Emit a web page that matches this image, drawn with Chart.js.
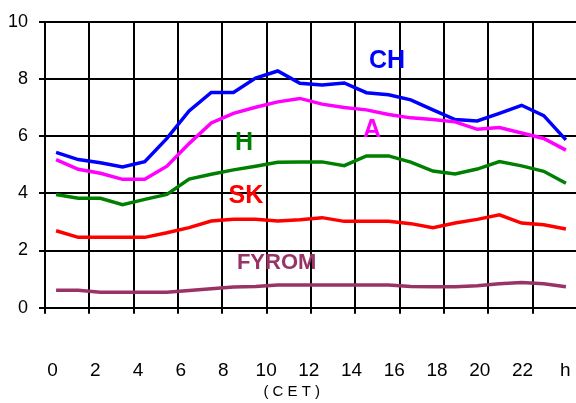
<!DOCTYPE html>
<html>
<head>
<meta charset="utf-8">
<script src="https://cdn.jsdelivr.net/npm/chart.js@4/dist/chart.umd.min.js"></script>
<style>
  html, body { margin: 0; padding: 0; background: #fff; overflow: hidden; }
  #wrap { width: 578px; height: 403px; }
</style>
</head>
<body>
<div id="wrap"><canvas id="c" width="578" height="403"></canvas></div>
<script>
// ---- data ----
const hours = ['0','1','2','3','4','5','6','7','8','9','10','11','12','13','14','15','16','17','18','19','20','21','22','23'];
const CH    = [5.43,5.18,5.07,4.92,5.11,5.92,6.88,7.53,7.53,8.03,8.28,7.85,7.79,7.86,7.52,7.45,7.27,6.92,6.58,6.53,6.80,7.08,6.72,5.87];
const A     = [5.18,4.84,4.70,4.49,4.49,4.95,5.74,6.46,6.80,7.01,7.20,7.32,7.12,7.00,6.92,6.76,6.64,6.58,6.50,6.24,6.30,6.11,5.92,5.51];
const H     = [3.96,3.83,3.83,3.60,3.79,3.96,4.50,4.67,4.82,4.95,5.09,5.10,5.10,4.97,5.31,5.31,5.09,4.78,4.68,4.85,5.11,4.96,4.77,4.35];
const SK    = [2.69,2.46,2.46,2.46,2.46,2.62,2.80,3.03,3.09,3.09,3.03,3.08,3.15,3.02,3.02,3.02,2.94,2.80,2.96,3.09,3.25,2.96,2.90,2.75];
const FYROM = [0.61,0.61,0.54,0.54,0.54,0.54,0.60,0.66,0.72,0.74,0.79,0.79,0.79,0.79,0.79,0.79,0.74,0.73,0.73,0.77,0.84,0.88,0.84,0.73];
const xTickValues = [0,2,4,6,8,10,12,14,16,18,20,22,24];
const xTickLabels = ['0','2','4','6','8','10','12','14','16','18','20','22','h'];
const yTicks = [0,2,4,6,8,10];
const axisTitle = '( C E T )';

const COLORS = { CH:'#0000FF', A:'#FF00FF', H:'#008000', SK:'#FF0000', FYROM:'#993366' };
const FONT = '"Liberation Sans", Arial, sans-serif';

// series name labels placed in data coordinates (category index, value)
const seriesLabels = [
  { text:'CH',    color:COLORS.CH,    idx:14.93, val:8.63, size:25 },
  { text:'A',     color:COLORS.A,     idx:14.25, val:6.20, size:25 },
  { text:'H',     color:COLORS.H,     idx:8.48,  val:5.75, size:25 },
  { text:'SK',    color:COLORS.SK,    idx:8.56,  val:3.90, size:25 },
  { text:'FYROM', color:COLORS.FYROM, idx:9.95,  val:1.57, size:22 }
];

const labelPlugin = {
  id: 'seriesLabels',
  afterDatasetsDraw(chart) {
    const {ctx, scales} = chart;
    ctx.save();
    ctx.textAlign = 'center';
    ctx.textBaseline = 'middle';
    seriesLabels.forEach(l => {
      ctx.font = 'bold ' + l.size + 'px ' + FONT;
      ctx.fillStyle = l.color;
      ctx.fillText(l.text, scales.x.getPixelForValue(l.idx), scales.y.getPixelForValue(l.val));
    });
    // axis unit title
    ctx.font = '15px ' + FONT;
    ctx.fillStyle = '#000';
    ctx.fillText(axisTitle, scales.x2.getPixelForValue(11.2), scales.x2.bottom - 11);
    ctx.restore();
  }
};

function ds(label, data, color) {
  return { label, data, borderColor: color, backgroundColor: color, borderWidth: 3.5,
           pointRadius: 0, tension: 0, fill: false, xAxisID: 'x', yAxisID: 'y' };
}

new Chart(document.getElementById('c'), {
  type: 'line',
  data: {
    labels: hours,
    datasets: [
      ds('FYROM', FYROM, COLORS.FYROM),
      ds('SK', SK, COLORS.SK),
      ds('H', H, COLORS.H),
      ds('A', A, COLORS.A),
      ds('CH', CH, COLORS.CH)
    ]
  },
  options: {
    responsive: false,
    animation: false,
    layout: { padding: { top: 16, right: 1, left: 0, bottom: 0 } },
    plugins: { legend: { display: false }, tooltip: { enabled: false }, title: { display: false } },
    scales: {
      x: {
        type: 'category',
        position: 'bottom',
        weight: 0,
        offset: true,
        grid: {
          offset: true,
          drawTicks: true,
          tickLength: 6,
          lineWidth: 2,
          color: (c) => (c.index % 2 === 0 ? '#000' : 'rgba(0,0,0,0)')
        },
        border: { display: true, color: '#000', width: 2 },
        ticks: { display: false },
        afterFit: (s) => { s.height = 6; s.paddingLeft = 0; s.paddingRight = 0; }
      },
      x2: {
        type: 'linear',
        position: 'bottom',
        weight: 1,
        min: -0.35,
        max: 24.55,
        grid: { display: false, drawTicks: false },
        border: { display: false },
        afterBuildTicks: (s) => { s.ticks = xTickValues.map(v => ({ value: v })); },
        ticks: {
          autoSkip: false,
          maxRotation: 0,
          padding: 46,
          color: '#000',
          font: { family: FONT, size: 19, lineHeight: 1.2 },
          callback: (v) => { const i = xTickValues.indexOf(v); return i >= 0 ? xTickLabels[i] : ''; }
        },
        afterFit: (s) => { s.height = 89.3; s.paddingLeft = 0; s.paddingRight = 0; }
      },
      y: {
        type: 'linear',
        position: 'left',
        min: 0,
        max: 10,
        afterBuildTicks: (s) => { s.ticks = yTicks.map(v => ({ value: v })); },
        grid: { color: '#000', lineWidth: 2, drawTicks: true, tickLength: 6 },
        border: { display: true, color: '#000', width: 2 },
        ticks: {
          padding: 11,
          color: '#000',
          font: { family: FONT, size: 18 }
        },
        afterFit: (s) => { s.width = 45; }
      }
    }
  },
  plugins: [labelPlugin]
});
</script>
</body>
</html>
